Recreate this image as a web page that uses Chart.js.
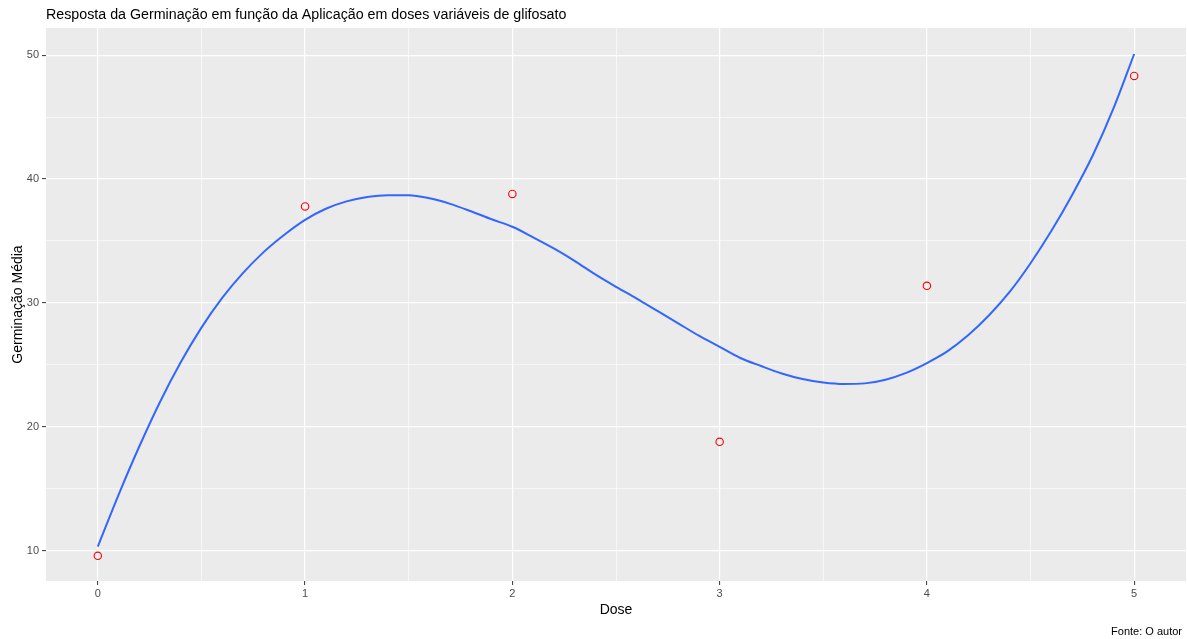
<!DOCTYPE html>
<html>
<head>
<meta charset="utf-8">
<script src="https://cdn.jsdelivr.net/npm/chart.js@4.4.1/dist/chart.umd.min.js"></script>
<style>
  html, body { margin: 0; padding: 0; background: #fff; }
  #wrap { width: 1187px; height: 639px; }
</style>
</head>
<body>
<div id="wrap"><canvas id="chartCanvas" width="1187" height="639"></canvas></div>
<script>
// observed means per dose
const doses = [0, 1, 2, 3, 4, 5];
const germination = [9.57, 37.79, 38.8, 18.78, 31.38, 48.33];

// smoothed curve, every 0.1 dose
const curveDose = [0, 0.1, 0.2, 0.3, 0.4, 0.5, 0.6, 0.7, 0.8, 0.9,
                   1.0, 1.1, 1.2, 1.3, 1.4, 1.5, 1.6, 1.7, 1.8, 1.9,
                   2.0, 2.1, 2.2, 2.3, 2.4, 2.5, 2.6, 2.7, 2.8, 2.9,
                   3.0, 3.1, 3.2, 3.3, 3.4, 3.5, 3.6, 3.7, 3.8, 3.9,
                   4.0, 4.1, 4.2, 4.3, 4.4, 4.5, 4.6, 4.7, 4.8, 4.9, 5.0];
const curveValue = [10.32, 14.5, 18.4, 22.0, 25.2, 28.0, 30.4, 32.4, 34.1, 35.5,
                    36.7, 37.6, 38.2, 38.55, 38.7, 38.7, 38.45, 38.0, 37.4, 36.75,
                    36.15, 35.3, 34.4, 33.4, 32.3, 31.3, 30.35, 29.35, 28.35, 27.35,
                    26.45, 25.55, 24.9, 24.3, 23.85, 23.57, 23.45, 23.5, 23.8, 24.35,
                    25.14, 26.1, 27.4, 29.0, 30.9, 33.2, 35.8, 38.7, 41.9, 45.7, 50.1];

const xTicks = [0, 1, 2, 3, 4, 5];
const yTicks = [10, 20, 30, 40, 50];

const titleText = 'Resposta da Germinação em função da Aplicação em doses variáveis de glifosato';
const captionText = 'Fonte: O autor';

const FONT = 'Liberation Sans, Arial, sans-serif';

// major ticks plus the minor lines halfway between them
function withMinor(major) {
    const out = [];
    major.forEach((v, i) => {
        out.push({ value: v, major: true });
        if (i < major.length - 1) out.push({ value: (v + major[i + 1]) / 2, major: false });
    });
    return out;
}

const panelPlugin = {
    id: 'panel',
    beforeDraw(chart) {
        const { ctx, chartArea: a } = chart;
        ctx.save();
        ctx.fillStyle = '#EBEBEB';
        ctx.fillRect(a.left, a.top, a.right - a.left, a.bottom - a.top);
        ctx.restore();
    },
    afterDraw(chart) {
        const { ctx, chartArea: a } = chart;
        ctx.save();
        ctx.fillStyle = '#000';
        ctx.textBaseline = 'alphabetic';
        ctx.font = '14.25px ' + FONT;
        ctx.textAlign = 'left';
        ctx.fillText(titleText, a.left, 19);
        ctx.font = '11px ' + FONT;
        ctx.textAlign = 'right';
        ctx.fillText(captionText, 1182, 635);
        ctx.restore();
    }
};

const gridOpts = {
    color: '#FFFFFF',
    lineWidth: c => (c.tick && c.tick.major === false ? 0.6 : 1.2),
    tickColor: c => (c.tick && c.tick.major === false ? 'rgba(0,0,0,0)' : '#333333'),
    tickWidth: 1,
    tickLength: 4
};

const ctx = document.getElementById('chartCanvas').getContext('2d');
new Chart(ctx, {
    type: 'scatter',
    data: {
        datasets: [
            {
                type: 'line',
                label: 'ajuste',
                data: curveDose.map((x, i) => ({ x: x, y: curveValue[i] })),
                borderColor: '#3366FF',
                borderWidth: 2,
                pointRadius: 0,
                cubicInterpolationMode: 'monotone',
                fill: false,
                order: 2
            },
            {
                label: 'média',
                data: doses.map((x, i) => ({ x: x, y: germination[i] })),
                pointStyle: 'circle',
                pointRadius: 3.7,
                borderColor: '#FF0000',
                backgroundColor: 'rgba(0,0,0,0)',
                borderWidth: 1.1,
                order: 1
            }
        ]
    },
    options: {
        responsive: false,
        animation: false,
        layout: { autoPadding: false, padding: { top: 28, right: 1, left: 0, bottom: 0 } },
        plugins: { legend: { display: false }, tooltip: { enabled: false } },
        scales: {
            x: {
                type: 'linear',
                min: -0.25,
                max: 5.25,
                afterBuildTicks: s => { s.ticks = withMinor(xTicks); },
                afterFit: s => { s.height = 58; s.paddingLeft = 0; s.paddingRight = 0; },
                grid: gridOpts,
                border: { display: false },
                ticks: {
                    autoSkip: false,
                    maxRotation: 0,
                    padding: 2,
                    color: '#4D4D4D',
                    font: { family: FONT, size: 11 },
                    callback: v => (xTicks.includes(v) ? String(v) : '')
                },
                title: {
                    display: true,
                    text: 'Dose',
                    color: '#000',
                    font: { family: FONT, size: 14 },
                    padding: { top: 0, bottom: 20 }
                }
            },
            y: {
                type: 'linear',
                min: 7.54,
                max: 52.2,
                afterBuildTicks: s => { s.ticks = withMinor(yTicks); },
                afterFit: s => { s.width = 46; s.paddingTop = 0; s.paddingBottom = 0; },
                grid: gridOpts,
                border: { display: false },
                ticks: {
                    autoSkip: false,
                    padding: 3,
                    color: '#4D4D4D',
                    font: { family: FONT, size: 11 },
                    callback: v => (yTicks.includes(v) ? String(v) : '')
                },
                title: {
                    display: true,
                    text: 'Germinação Média',
                    color: '#000',
                    font: { family: FONT, size: 14 },
                    padding: { top: 10, bottom: 0 }
                }
            }
        }
    },
    plugins: [panelPlugin]
});
</script>
</body>
</html>
